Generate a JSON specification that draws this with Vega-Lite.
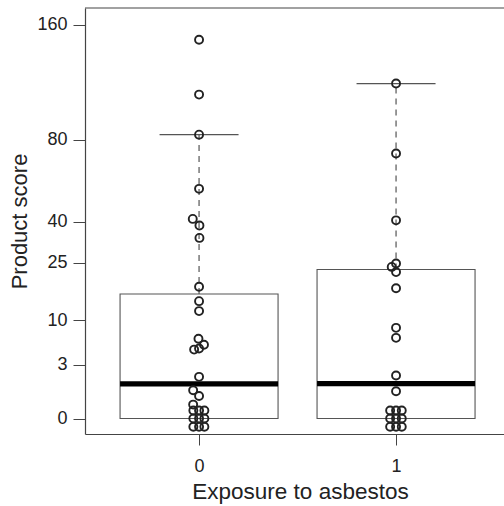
{
  "$schema": "https://vega.github.io/schema/vega-lite/v6.json",
  "width": 419,
  "height": 426,
  "autosize": {"type": "none"},
  "padding": {"left": 85, "top": 8, "right": 0, "bottom": 72},
  "background": "white",
  "config": {
    "view": {"stroke": null},
    "font": "Liberation Sans",
    "axis": {"domainColor": "#444", "tickColor": "#444", "labelColor": "#222", "titleColor": "#222", "grid": false, "labelFont": "Liberation Sans", "titleFont": "Liberation Sans", "titleFontWeight": "normal"}
  },
  "datasets": {
    "boxes": [
      {"group": 0, "q1": 0, "median": 1.24, "q3": 16.0, "upper": 83.1},
      {"group": 1, "q1": 0, "median": 1.26, "q3": 22.9, "upper": 115.7}
    ],
    "points": [
      {"group": 0, "x": 0.0, "score": 148.0},
      {"group": 0, "x": 0.0, "score": 108.2},
      {"group": 0, "x": 0.0, "score": 83.1},
      {"group": 0, "x": 0.0, "score": 54.4},
      {"group": 0, "x": -0.032, "score": 41.1},
      {"group": 0, "x": 0.002, "score": 38.4},
      {"group": 0, "x": 0.002, "score": 33.65},
      {"group": 0, "x": 0.0, "score": 17.9},
      {"group": 0, "x": 0.0, "score": 14.2},
      {"group": 0, "x": 0.0, "score": 11.9},
      {"group": 0, "x": -0.003, "score": 6.55},
      {"group": 0, "x": 0.025, "score": 5.6},
      {"group": 0, "x": -0.025, "score": 4.9},
      {"group": 0, "x": 0.0, "score": 5.05},
      {"group": 0, "x": 0.0, "score": 1.79},
      {"group": 0, "x": -0.03, "score": 0.825},
      {"group": 0, "x": 0.0, "score": 0.52},
      {"group": 0, "x": -0.03, "score": 0.2},
      {"group": 0, "x": -0.029, "score": 0.066},
      {"group": 0, "x": 0.0, "score": 0.066},
      {"group": 0, "x": 0.027, "score": 0.066},
      {"group": 0, "x": -0.029, "score": 0.0},
      {"group": 0, "x": 0.0, "score": 0.0},
      {"group": 0, "x": 0.027, "score": 0.0},
      {"group": 0, "x": -0.029, "score": -0.071},
      {"group": 0, "x": 0.0, "score": -0.071},
      {"group": 0, "x": 0.027, "score": -0.071},
      {"group": 1, "x": 1.0, "score": 115.7},
      {"group": 1, "x": 1.0, "score": 72.4},
      {"group": 1, "x": 1.0, "score": 40.5},
      {"group": 1, "x": 1.0, "score": 24.8},
      {"group": 1, "x": 0.978, "score": 23.7},
      {"group": 1, "x": 1.0, "score": 22.1},
      {"group": 1, "x": 1.0, "score": 17.5},
      {"group": 1, "x": 1.0, "score": 8.48},
      {"group": 1, "x": 1.0, "score": 6.71},
      {"group": 1, "x": 1.0, "score": 1.905},
      {"group": 1, "x": 1.0, "score": 0.768},
      {"group": 1, "x": 0.97, "score": 0.066},
      {"group": 1, "x": 1.0, "score": 0.066},
      {"group": 1, "x": 1.029, "score": 0.066},
      {"group": 1, "x": 0.97, "score": 0.0},
      {"group": 1, "x": 1.0, "score": 0.0},
      {"group": 1, "x": 1.029, "score": 0.0},
      {"group": 1, "x": 0.97, "score": -0.071},
      {"group": 1, "x": 1.0, "score": -0.071},
      {"group": 1, "x": 1.029, "score": -0.071}
    ]
  },
  "layer": [
    {
      "data": {"name": "boxes"},
      "mark": {"type": "bar", "width": 158, "fill": "white", "stroke": "#555", "strokeWidth": 1.1},
      "encoding": {
        "x": {"field": "group", "type": "quantitative", "scale": {"domain": [-0.579, 1.548], "nice": false, "zero": false, "padding": 0},
          "axis": {"orient": "bottom", "values": [0, 1], "format": "d", "title": "Exposure to asbestos", "tickSize": 11, "labelPadding": 12, "labelFontSize": 18, "titleFontSize": 22.5, "titlePadding": 5, "titleX": 215, "domainWidth": 1.2}},
        "y": {"field": "q1", "type": "quantitative", "scale": {"type": "sqrt", "domain": [-0.2476, 173.8], "nice": false, "zero": false, "padding": 0},
          "axis": {"values": [0, 3, 10, 25, 40, 80, 160], "title": "Product score", "tickSize": 12, "labelPadding": 6, "labelFontSize": 18, "titleFontSize": 22, "titlePadding": 5, "domainWidth": 1.2}},
        "y2": {"field": "q3"}
      }
    },
    {
      "data": {"name": "boxes"},
      "mark": {"type": "rule", "stroke": "#555", "strokeWidth": 1.2, "strokeDash": [6, 5]},
      "encoding": {
        "x": {"field": "group", "type": "quantitative"},
        "y": {"field": "q3", "type": "quantitative"},
        "y2": {"field": "upper"}
      }
    },
    {
      "data": {"name": "boxes"},
      "mark": {"type": "tick", "orient": "horizontal", "size": 79, "thickness": 1.2, "color": "#555", "opacity": 1},
      "encoding": {
        "x": {"field": "group", "type": "quantitative"},
        "y": {"field": "upper", "type": "quantitative"}
      }
    },
    {
      "data": {"name": "boxes"},
      "mark": {"type": "tick", "orient": "horizontal", "size": 158, "thickness": 5.3, "color": "black", "opacity": 1},
      "encoding": {
        "x": {"field": "group", "type": "quantitative"},
        "y": {"field": "median", "type": "quantitative"}
      }
    },
    {
      "data": {"name": "points"},
      "mark": {"type": "point", "shape": "circle", "size": 64, "filled": false, "stroke": "#222", "strokeWidth": 1.9, "opacity": 1},
      "encoding": {
        "x": {"field": "x", "type": "quantitative"},
        "y": {"field": "score", "type": "quantitative"}
      }
    },
    {
      "data": {"values": [{"k": 1}]},
      "mark": {"type": "rule", "stroke": "#444", "strokeWidth": 1.2},
      "encoding": {"y": {"datum": 173.8, "type": "quantitative"}}
    }
  ]
}
